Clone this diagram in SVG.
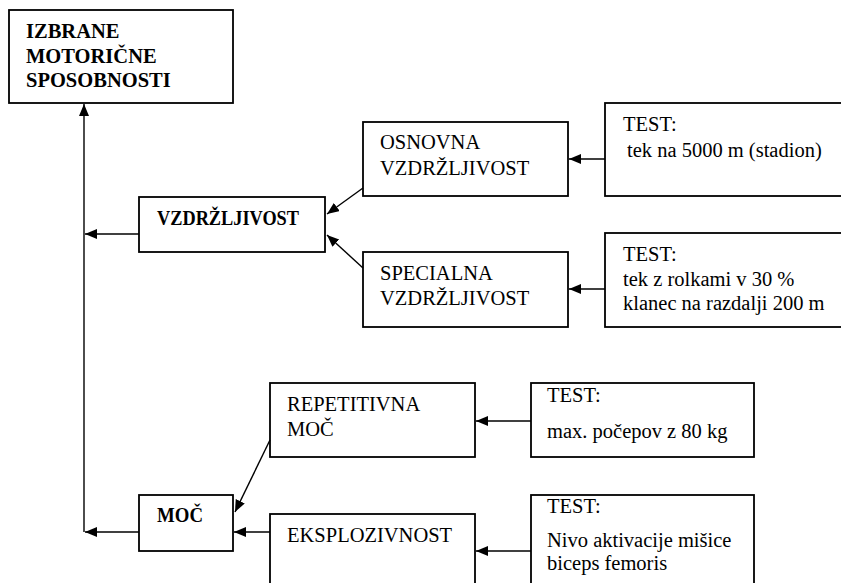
<svg xmlns="http://www.w3.org/2000/svg" width="841" height="583" viewBox="0 0 841 583" font-family="'Liberation Serif', 'Times New Roman', 'DejaVu Serif', serif" font-size="20.5">
<style>
rect.box { fill: #fff; stroke: #000; stroke-width: 1.8; }
text { font-family: 'Liberation Serif', 'Times New Roman', 'DejaVu Serif', serif; font-size: 20.5px; fill: #000; }
text.b { font-weight: bold; }
.conn line { stroke: #000; stroke-width: 1.4; fill: none; marker-end: url(#ah); }
</style>
<defs>
<marker id="ah" markerUnits="userSpaceOnUse" markerWidth="14" markerHeight="12" refX="12" refY="5" orient="auto">
<path d="M0,0 L12,5 L0,10 z" fill="#000"/>
</marker>
</defs>
<rect width="841" height="583" fill="#fff"/>

<g id="izbrane">
<rect class="box" x="9" y="10" width="224" height="93"/>
<text class="b" x="26" y="38">IZBRANE</text>
<text class="b" x="26" y="63">MOTORIČNE</text>
<text class="b" x="26" y="87">SPOSOBNOSTI</text>
</g>

<g id="vzdrzljivost">
<rect class="box" x="139" y="197" width="186" height="55"/>
<text class="b" x="157" y="225" textLength="142" lengthAdjust="spacingAndGlyphs">VZDRŽLJIVOST</text>
</g>

<g id="osnovna">
<rect class="box" x="363" y="122" width="205" height="74"/>
<text x="380" y="149">OSNOVNA</text>
<text x="380" y="175">VZDRŽLJIVOST</text>
</g>

<g id="specialna">
<rect class="box" x="363" y="252" width="205" height="75"/>
<text x="380" y="280">SPECIALNA</text>
<text x="380" y="305">VZDRŽLJIVOST</text>
</g>

<g id="test1">
<rect class="box" x="605" y="103" width="250" height="93"/>
<text x="623" y="131">TEST:</text>
<text x="627" y="157">tek na 5000 m (stadion)</text>
</g>

<g id="test2">
<rect class="box" x="605" y="233" width="250" height="94"/>
<text x="623" y="261">TEST:</text>
<text x="623" y="286">tek z rolkami v 30 %</text>
<text x="623" y="310">klanec na razdalji 200 m</text>
</g>

<g id="repetitivna">
<rect class="box" x="270" y="383" width="205" height="74"/>
<text x="287" y="411">REPETITIVNA</text>
<text x="287" y="436">MOČ</text>
</g>

<g id="test3">
<rect class="box" x="531" y="383" width="223" height="74"/>
<text x="547" y="402">TEST:</text>
<text x="547" y="438">max. počepov z 80 kg</text>
</g>

<g id="moc">
<rect class="box" x="139" y="495" width="94" height="56"/>
<text class="b" x="157" y="522" textLength="46" lengthAdjust="spacingAndGlyphs">MOČ</text>
</g>

<g id="eksplozivnost">
<rect class="box" x="270" y="514" width="205" height="80"/>
<text x="287" y="542">EKSPLOZIVNOST</text>
</g>

<g id="test4">
<rect class="box" x="531" y="495" width="223" height="99"/>
<text x="547" y="513">TEST:</text>
<text x="547" y="547">Nivo aktivacije mišice</text>
<text x="547" y="570">biceps femoris</text>
</g>

<g id="connectors" class="conn">
<line x1="84" y1="532" x2="84" y2="104"/>
<line x1="139" y1="234" x2="85" y2="234"/>
<line x1="139" y1="532" x2="85" y2="532"/>
<line x1="363" y1="188" x2="327" y2="214"/>
<line x1="363" y1="268" x2="327" y2="235"/>
<line x1="605" y1="159" x2="569" y2="159"/>
<line x1="605" y1="289" x2="569" y2="289"/>
<line x1="270" y1="440" x2="235" y2="512"/>
<line x1="270" y1="532" x2="234" y2="532"/>
<line x1="531" y1="421" x2="476" y2="421"/>
<line x1="531" y1="551" x2="476" y2="551"/>
</g>
</svg>
